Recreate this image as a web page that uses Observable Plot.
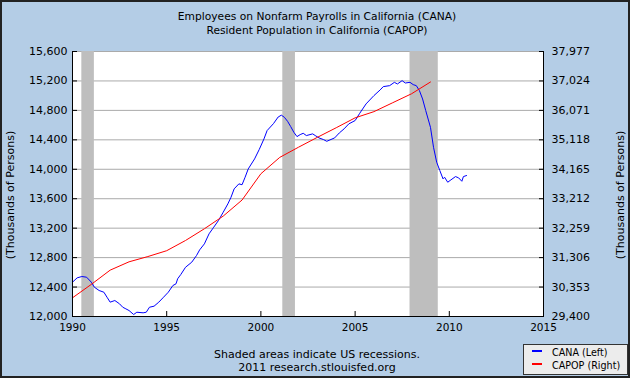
<!DOCTYPE html>
<html><head><meta charset="utf-8">
<script src="https://cdn.jsdelivr.net/npm/d3@7"></script>
<script src="https://cdn.jsdelivr.net/npm/@observablehq/plot@0.6"></script>
<style>
html,body{margin:0;padding:0;background:#fff}
#chart{position:relative;width:630px;height:378px;background:#B4CDE6;overflow:hidden;font-family:"DejaVu Sans",Verdana,sans-serif;color:#000}
#chart svg{position:absolute;left:0;top:0}
#frame{position:absolute;left:0;top:0;width:630px;height:378px;box-sizing:border-box;border:2px solid #222;pointer-events:none}
.title{position:absolute;left:0;top:10px;width:634px;text-align:center;font-size:10.7px;line-height:13.5px}
.footer{position:absolute;left:0;top:348px;width:634px;text-align:center;font-size:11px;line-height:13px}
.ytitle{position:absolute;width:200px;height:14px;line-height:14px;text-align:center;font-size:11px;transform:rotate(-90deg);transform-origin:50% 50%}
#legend{position:absolute;left:523px;top:344px;width:105px;height:31px;box-sizing:border-box;border:1px solid #333;background:#ececec;font-size:9.6px}
#legend .item{position:absolute;left:8px;height:12px;line-height:12px;white-space:nowrap}
#legend .sw{display:inline-block;width:10px;height:2px;vertical-align:middle;margin-right:10px;position:relative;top:-2px}
</style></head>
<body>
<div id="chart">
  <div class="title">Employees on Nonfarm Payrolls in California (CANA)<br>Resident Population in California (CAPOP)</div>
  <div class="ytitle" style="left:-89.5px;top:188px">(Thousands of Persons)</div>
  <div class="ytitle" style="left:520.5px;top:188px">(Thousands of Persons)</div>
  <div class="footer">Shaded areas indicate US recessions.<br>2011 research.stlouisfed.org</div>
  <div id="legend"></div>
  <div id="frame"></div>
</div>
<script>
// CANA: Employees on Nonfarm Payrolls in California (thousands), left axis
const canaDates = ["1990-01","1990-04","1990-07","1990-10","1991-01","1991-03","1991-06","1991-09","1991-11",
"1992-01","1992-04","1992-07","1992-09","1992-11","1993-01","1993-04","1993-06","1993-10","1993-12",
"1994-02","1994-05","1994-08","1994-11","1995-02","1995-05","1995-07","1995-08","1995-10",
"1996-01","1996-05","1996-08","1996-10","1997-01","1997-04","1997-07","1997-10",
"1998-01","1998-04","1998-06","1998-08","1998-11","1999-01","1999-03","1999-05","1999-09","1999-12",
"2000-03","2000-05","2000-09","2000-12","2001-02","2001-04","2001-06","2001-08","2001-10","2001-12",
"2002-02","2002-04","2002-06","2002-10","2002-12","2003-02","2003-05","2003-07","2003-09","2003-12",
"2004-03","2004-06","2004-09","2005-01","2005-04","2005-08","2006-01","2006-05","2006-07","2006-11",
"2007-02","2007-04","2007-07","2007-09","2007-12","2008-02","2008-04","2008-06","2008-08","2008-10",
"2009-01","2009-03","2009-05","2009-07","2009-09","2009-10","2009-12",
"2010-02","2010-05","2010-07","2010-09","2010-10","2010-12"];
const canaValues = [12466,12525,12543,12534,12466,12398,12353,12330,12262,
12195,12217,12172,12126,12104,12081,12027,12058,12050,12058,
12126,12140,12195,12262,12330,12421,12444,12512,12570,
12669,12738,12828,12905,12987,13123,13213,13304,
13417,13530,13620,13734,13802,13790,13892,14005,14141,14270,
14413,14526,14620,14710,14735,14706,14652,14580,14503,14444,
14471,14489,14458,14481,14453,14426,14403,14380,14399,14426,
14494,14549,14617,14662,14761,14888,15001,15078,15123,15136,
15181,15159,15204,15172,15181,15150,15136,15068,14955,14797,
14570,14299,14096,13983,13870,13892,13824,
13856,13901,13883,13837,13901,13915];
// CAPOP: Resident Population in California (thousands), right axis, annual
const capopYears = [1990,1991,1992,1993,1994,1995,1996,1997,1998,1999,2000,2001,2002,2003,2004,2005,2006,2007,2008,2009];
const capopValues = [30005,30440,30900,31170,31340,31530,31860,32240,32650,33170,34020,34550,34880,35200,35510,35830,36030,36320,36610,36990];
// Recessions
const recessionStarts = ["1990-07","2001-03","2007-12"];
const recessionEnds = ["1991-03","2001-11","2009-06"];
// Axes
const leftTicks = [12000,12400,12800,13200,13600,14000,14400,14800,15200,15600];
const leftDomain = [12000,15600];
const rightDomain = [29400,37977];
const xTickYears = [1990,1995,2000,2005,2010,2015];
const seriesNames = ["CANA (Left)","CAPOP (Right)"];
const seriesColors = ["#0000ff","#ff0000"];

const parseM = d3.utcParse("%Y-%m");
const cana = canaDates.map((d,i)=>({date:parseM(d), value:canaValues[i]}));
const capop = capopYears.map((y,i)=>({date:new Date(Date.UTC(y,0,1)), value:capopValues[i]}));
const recessions = recessionStarts.map((s,i)=>({start:parseM(s), end:parseM(recessionEnds[i])}));
const xTicks = xTickYears.map(y=>new Date(Date.UTC(y,0,1)));
const xDomain = [xTicks[0], xTicks[xTicks.length-1]];
// map right-axis values onto the left scale
const k = (leftDomain[1]-leftDomain[0])/(rightDomain[1]-rightDomain[0]);
const toLeft = v => leftDomain[0] + (v - rightDomain[0]) * k;
const comma = d3.format(",");
const fmtLeft = t => comma(t);
const fmtRight = t => comma(Math.round(rightDomain[0] + (t - leftDomain[0]) / k));
const blank = () => "";

const chart = Plot.plot({
  width:630, height:378,
  marginTop:51, marginBottom:62, marginLeft:72, marginRight:87,
  style:{background:"transparent", fontFamily:"DejaVu Sans, Verdana, sans-serif", fontSize:"11px", color:"#000"},
  x:{type:"utc", domain:xDomain},
  y:{domain:leftDomain},
  marks:[
    Plot.frame({fill:"white", stroke:null}),
    Plot.gridY(leftTicks, {stroke:"#aaaaaa", strokeOpacity:1}),
    Plot.rect(recessions, {x1:"start", x2:"end", fill:"#bebebe"}),
    Plot.line(cana, {x:"date", y:"value", stroke:seriesColors[0], strokeWidth:1}),
    Plot.line(capop, {x:"date", y:d=>toLeft(d.value), stroke:seriesColors[1], strokeWidth:1}),
    Plot.axisY(leftTicks, {anchor:"left", tickSize:0, tickPadding:5, tickFormat:fmtLeft, label:null, fontSize:11}),
    Plot.axisY(leftTicks, {anchor:"left", tickSize:5, dx:5, tickFormat:blank, label:null}),
    Plot.axisY(leftTicks, {anchor:"right", tickSize:0, tickPadding:8, tickFormat:fmtRight, label:null, fontSize:11}),
    Plot.axisY(leftTicks, {anchor:"right", tickSize:5, dx:-5, tickFormat:blank, label:null}),
    Plot.axisX(xTicks, {anchor:"bottom", tickSize:0, tickPadding:7, tickFormat:d3.utcFormat("%Y"), label:null, fontSize:10.5}),
    Plot.axisX(xTicks, {anchor:"bottom", tickSize:5, dy:-5, tickFormat:blank, label:null}),
    Plot.ruleX(xDomain, {stroke:"black"}),
    Plot.ruleY([leftDomain[0]], {stroke:"black"})
  ]
});
document.getElementById("chart").insertBefore(chart, document.getElementById("frame"));

const legend = document.getElementById("legend");
seriesNames.forEach((n,i)=>{
  const it = document.createElement("div");
  it.className = "item";
  it.style.top = (2 + i*13) + "px";
  it.innerHTML = `<span class="sw" style="background:${seriesColors[i]}"></span>${n}`;
  legend.appendChild(it);
});
</script>
</body></html>
